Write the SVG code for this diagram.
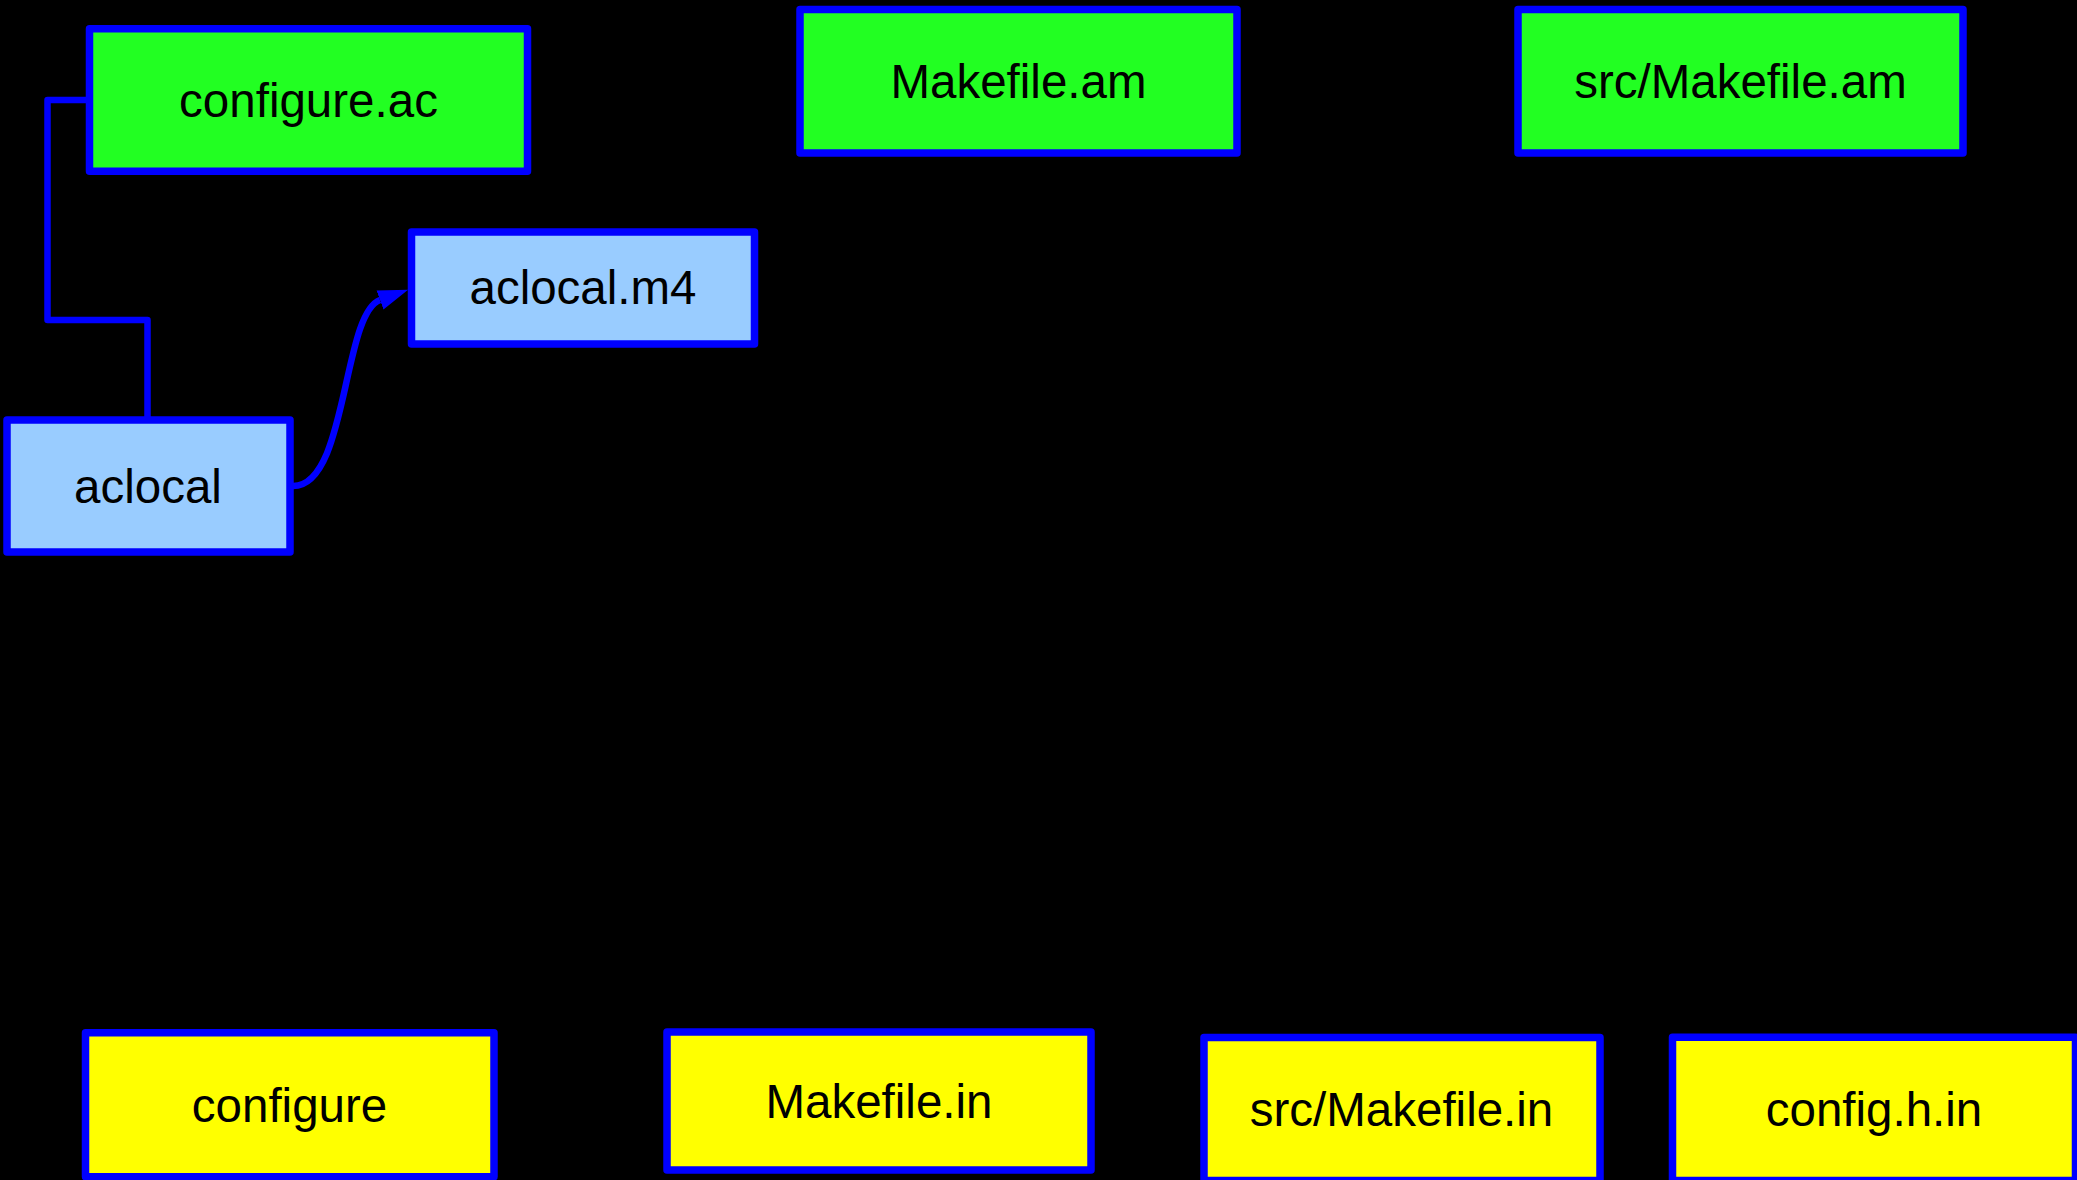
<svg xmlns="http://www.w3.org/2000/svg" width="2077" height="1180" viewBox="0 0 2077 1180">
  <style>
    .box { stroke: #0000ff; stroke-width: 7.5; stroke-linejoin: round; }
    .src { fill: #22ff22; }
    .tool { fill: #99ccff; }
    .out { fill: #ffff00; }
    .label { font-family: "Liberation Sans", Arial, sans-serif; font-size: 47.5px; fill: #000000; text-anchor: middle; }
    .conn { fill: none; stroke: #0000ff; stroke-width: 6.5; stroke-linejoin: round; }
  </style>
  <defs>
    <marker id="arrow" markerUnits="userSpaceOnUse" markerWidth="32" markerHeight="24" viewBox="0 -12 32 24" refX="0" refY="0" orient="auto">
      <path d="M0,-10 L30,0 L0,10 Z" fill="#0000ff"/>
    </marker>
  </defs>

  <rect x="0" y="0" width="2077" height="1180" fill="#000000"/>

  <!-- connectors -->
  <g id="connectors">
    <path class="conn" d="M89.5,100 L47.5,100 L47.5,320 L147.5,320 L147.5,420"/>
    <path class="conn" d="M293,486 C348,486 342,314 380,300" marker-end="url(#arrow)"/>
  </g>

  <!-- sources -->
  <g id="configure-ac">
    <rect class="box src" x="89.5" y="28.75" width="438" height="142.5"/>
    <text class="label" x="308.5" y="116.5">configure.ac</text>
  </g>
  <g id="makefile-am">
    <rect class="box src" x="800" y="9.5" width="437" height="143.5"/>
    <text class="label" x="1018.5" y="98">Makefile.am</text>
  </g>
  <g id="src-makefile-am">
    <rect class="box src" x="1518" y="9.5" width="445" height="143.5"/>
    <text class="label" x="1740.5" y="98">src/Makefile.am</text>
  </g>

  <!-- aclocal -->
  <g id="aclocal-m4">
    <rect class="box tool" x="411.5" y="232" width="343" height="112"/>
    <text class="label" x="583" y="304">aclocal.m4</text>
  </g>
  <g id="aclocal">
    <rect class="box tool" x="7" y="420" width="283" height="132"/>
    <text class="label" x="148" y="503">aclocal</text>
  </g>

  <!-- generated files -->
  <g id="configure">
    <rect class="box out" x="85.5" y="1032.8" width="408.5" height="143.9"/>
    <text class="label" x="289.5" y="1121.5">configure</text>
  </g>
  <g id="makefile-in">
    <rect class="box out" x="667" y="1032" width="424" height="138"/>
    <text class="label" x="879" y="1118">Makefile.in</text>
  </g>
  <g id="src-makefile-in">
    <rect class="box out" x="1204" y="1037.5" width="396" height="143"/>
    <text class="label" x="1401.5" y="1126">src/Makefile.in</text>
  </g>
  <g id="config-h-in">
    <rect class="box out" x="1672.5" y="1037.3" width="403" height="143.2"/>
    <text class="label" x="1874" y="1126">config.h.in</text>
  </g>
</svg>
